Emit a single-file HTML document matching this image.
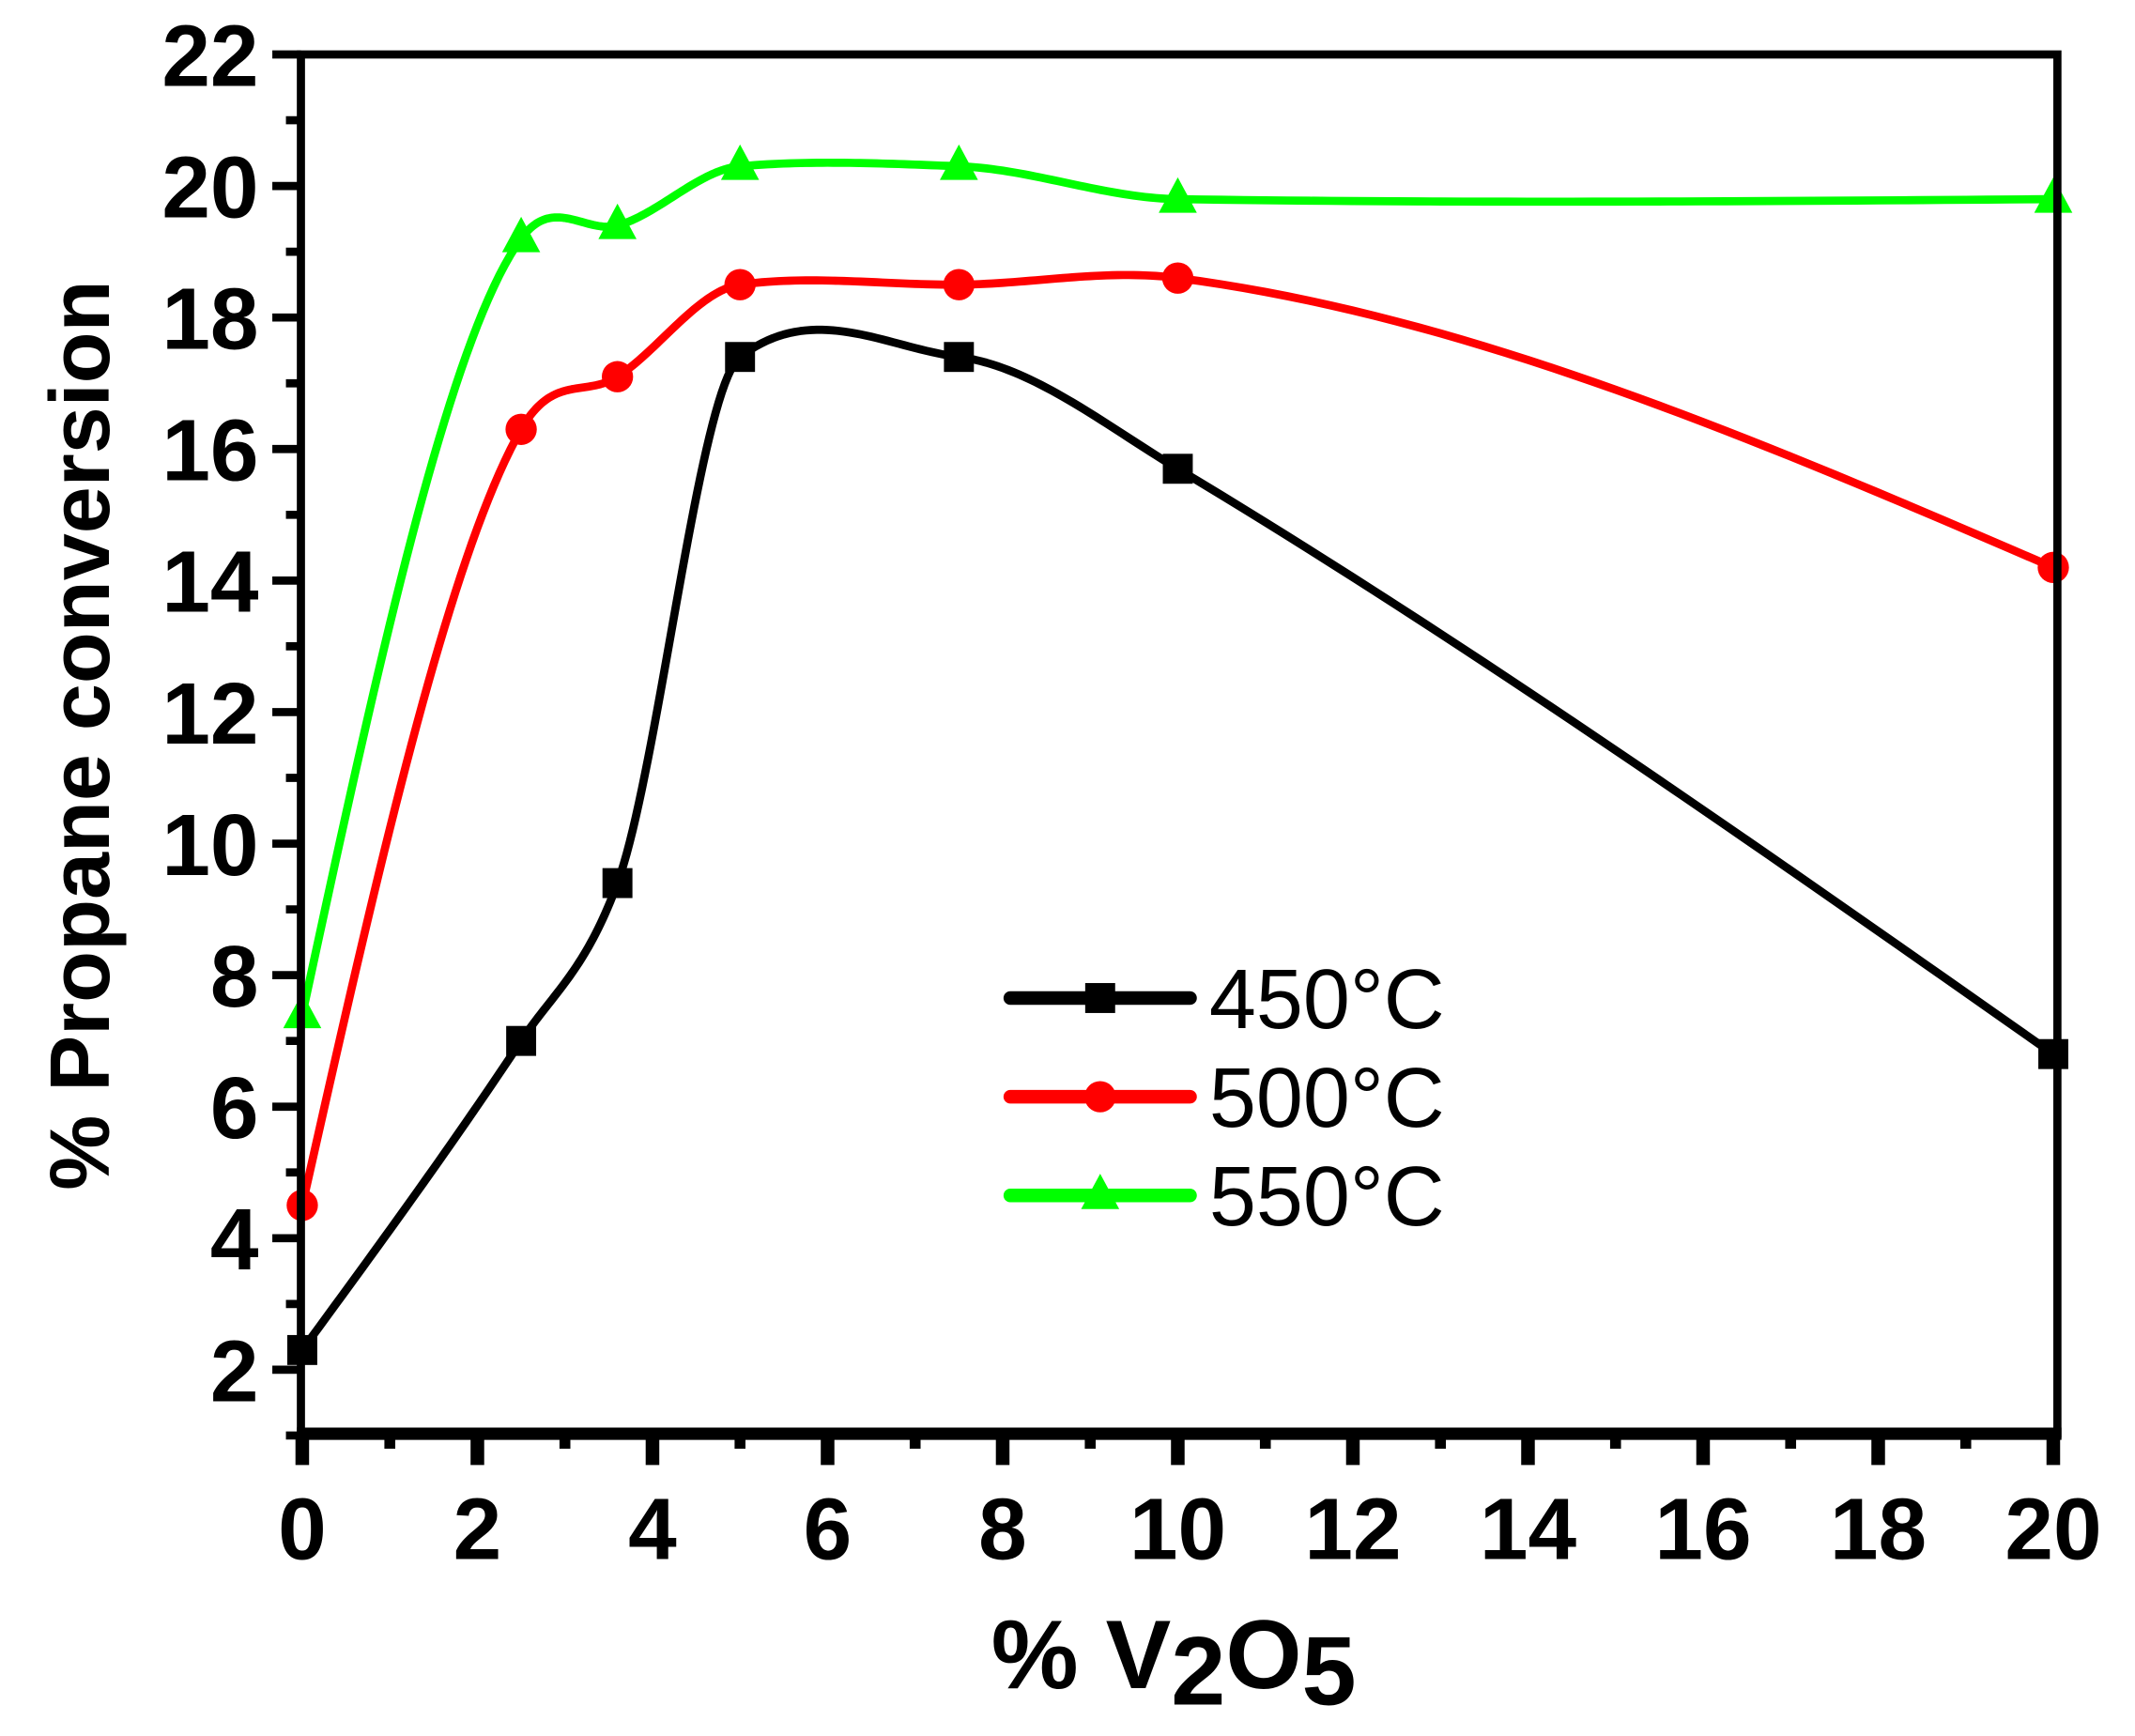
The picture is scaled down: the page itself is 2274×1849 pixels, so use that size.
<!DOCTYPE html>
<html><head><meta charset="utf-8"><style>
html,body{margin:0;padding:0;background:#fff;}
svg{display:block;}
text{font-family:"Liberation Sans",Arial,sans-serif;}
</style></head><body>
<svg id="s" width="2274" height="1849" viewBox="0 0 1568 1275" preserveAspectRatio="none" xmlns="http://www.w3.org/2000/svg">
<rect width="1568" height="1275" fill="#fff"/>
<g id="curves"></g>
<rect x="221" y="40" width="1290" height="1013" fill="none" stroke="#000" stroke-width="6"/>
<line x1="218" y1="1053" x2="1514" y2="1053" stroke="#000" stroke-width="9"/>
<g id="ticks" stroke="#000"></g>
<g id="labels" font-weight="bold" font-size="64" fill="#000"></g>
<text transform="translate(80,540) rotate(-90)" text-anchor="middle" font-weight="bold" font-size="62">% Propane conversion</text>
<text x="728" y="1240" font-weight="bold" font-size="72">% V<tspan dy="12">2</tspan><tspan dy="-12">O</tspan><tspan dy="12">5</tspan></text>
<g id="legend"></g>
</svg>
<script>
var NS="http://www.w3.org/2000/svg";
function X(v){return 222+v*64.3;}
function Y(v){return 1006-(v-2)*48.3;}
function el(t,a,p){var e=document.createElementNS(NS,t);for(var k in a)e.setAttribute(k,a[k]);p.appendChild(e);return e;}
var ticks=document.getElementById('ticks'),labels=document.getElementById('labels');
for(var v=1;v<=22;v++){var maj=(v%2==0);var y=Y(v);
 el('line',{x1:maj?200:210,y1:y,x2:221,y2:y,'stroke-width':6},ticks);
 if(maj){var t=el('text',{x:190,y:y+23,'text-anchor':'end'},labels);t.textContent=v;}}
for(var v=0;v<=20;v++){var maj=(v%2==0);var x=X(v);
 el('line',{x1:x,y1:1053,x2:x,y2:maj?1076:1064,'stroke-width':maj?10:8},ticks);
 if(maj){var t=el('text',{x:x,y:1145,'text-anchor':'middle'},labels);t.textContent=v;}}
var series=[
 {c:'#000',m:'sq',d:[[0,2.3],[2.5,7],[3.6,9.4],[5,17.4],[7.5,17.4],[10,15.7],[20,6.8]]},
 {c:'#ff0000',m:'ci',d:[[0,4.5],[2.5,16.3],[3.6,17.1],[5,18.5],[7.5,18.5],[10,18.6],[20,14.2]]},
 {c:'#00ff00',m:'tr',d:[[0,7.4],[2.5,19.2],[3.6,19.4],[5,20.3],[7.5,20.3],[10,19.8],[20,19.8]]}];
function curve(pts){
 var n=pts.length,x=pts.map(p=>p[0]),y=pts.map(p=>p[1]),h=[],d=[],m=[];
 for(var i=0;i<n-1;i++){h[i]=x[i+1]-x[i];d[i]=(y[i+1]-y[i])/h[i];}
 for(var i=1;i<n-1;i++){
  var card=(y[i+1]-y[i-1])/(x[i+1]-x[i-1]);
  var fb=0;
  if(d[i-1]*d[i]>0){fb=3*(h[i-1]+h[i])/((2*h[i]+h[i-1])/d[i-1]+(h[i]+2*h[i-1])/d[i]);}
  m[i]=0.5*card+0.5*fb;}
 m[0]=(3*d[0]-m[1])/2; m[n-1]=(3*d[n-2]-m[n-2])/2;
 var out=[];
 for(var i=0;i<n-1;i++){for(var k=0;k<40;k++){var t=k/40,t2=t*t,t3=t2*t;
  var yy=(2*t3-3*t2+1)*y[i]+(t3-2*t2+t)*h[i]*m[i]+(-2*t3+3*t2)*y[i+1]+(t3-t2)*h[i]*m[i+1];
  out.push([x[i]+t*h[i],yy]);}}
 out.push(pts[n-1]);return out;}
var g=document.getElementById('curves');
function marker(m,x,y,c,p){
 if(m=='sq')el('rect',{x:x-11,y:y-11,width:22,height:22,fill:c},p);
 else if(m=='ci')el('circle',{cx:x,cy:y,r:11.5,fill:c},p);
 else el('polygon',{points:(x)+','+(y-16)+' '+(x-14)+','+(y+10)+' '+(x+14)+','+(y+10),fill:c},p);}
series.forEach(function(s){
 var S=curve(s.d);
 var d='M'+S.map(function(q){return X(q[0]).toFixed(2)+','+Y(q[1]).toFixed(2);}).join(' L');
 el('path',{d:d,fill:'none',stroke:s.c,'stroke-width':6,'stroke-linejoin':'round'},g);
 s.d.forEach(function(q){marker(s.m,X(q[0]),Y(q[1]),s.c,g);});
});
var L=document.getElementById('legend');
series.forEach(function(s,i){var y=733+i*72.5;
 el('line',{x1:742,y1:y,x2:874,y2:y,stroke:s.c,'stroke-width':10,'stroke-linecap':'round'},L);
 marker(s.m,808,y,s.c,L);
 var t=el('text',{x:888,y:y+22,'font-size':62},L);t.textContent=['450','500','550'][i]+'°C';});
</script>
</body></html>
